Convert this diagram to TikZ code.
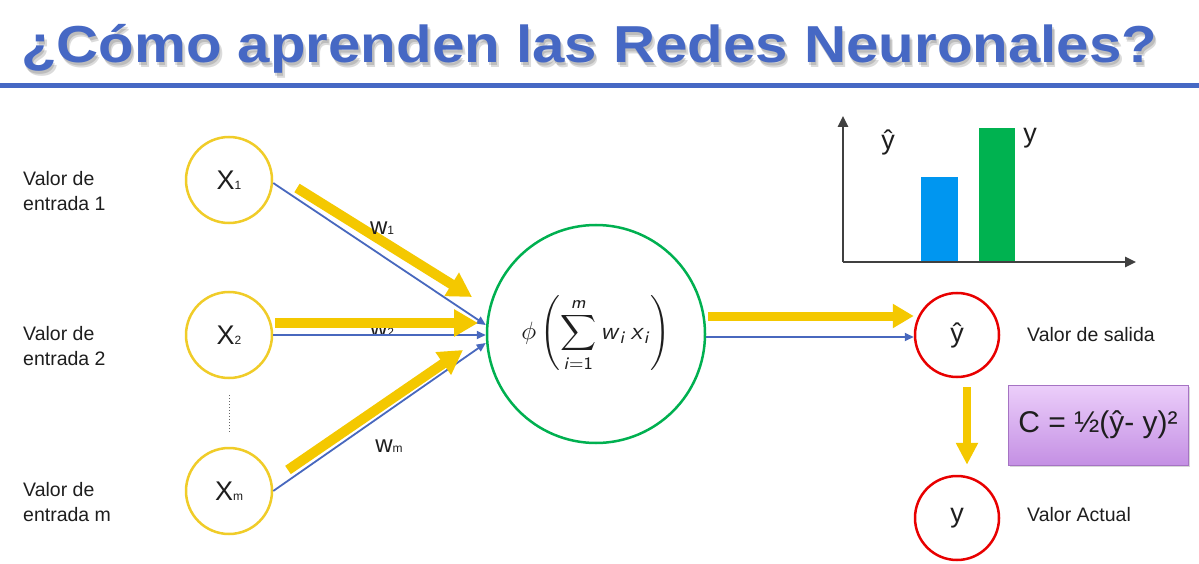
\documentclass[tikz,border=0pt]{standalone}
\usepackage{amsmath}
\usepackage{fontspec}
\setmainfont{Liberation Sans}
\usetikzlibrary{arrows.meta,calc,shadows}

\definecolor{titleblue}{RGB}{70,104,196}
\definecolor{linkblue}{RGB}{72,104,190}
\definecolor{gold}{RGB}{244,200,0}
\definecolor{ringgold}{RGB}{240,204,40}
\definecolor{ringgreen}{RGB}{0,176,80}
\definecolor{ringred}{RGB}{232,0,0}
\definecolor{axisgray}{RGB}{64,64,64}
\definecolor{barblue}{RGB}{0,150,240}
\definecolor{bargreen}{RGB}{0,178,80}
\definecolor{txt}{RGB}{30,30,30}
\definecolor{boxtop}{RGB}{236,206,250}
\definecolor{boxbottom}{RGB}{196,144,228}
\definecolor{boxedge}{RGB}{165,115,195}

% small index set on the baseline, as in X1, w1
\newcommand\lowidx[1]{{\fontsize{12}{12}\selectfont #1}}
% sans-serif italic letters inside the activation formula
\newcommand\sv[1]{\textsf{\textit{#1}}}

\tikzset{
  innode/.style={circle, draw=ringgold, line width=2.5pt, minimum size=86pt,
    inner sep=0pt, fill=white, text=txt, font=\fontsize{27}{27}\selectfont},
  outnode/.style={circle, draw=ringred, line width=2.5pt, minimum size=84pt,
    inner sep=0pt, fill=white, text=txt, font=\fontsize{27}{27}\selectfont},
  neuronnode/.style={circle, draw=ringgreen, line width=2.5pt, minimum size=218pt,
    inner sep=0pt, text=txt},
  link/.style={draw=linkblue, line width=1.8pt, -{Triangle[length=9pt,width=8pt]}},
  flow/.style={draw=gold, line width=10pt, -{Triangle[length=24pt,width=26pt]}},
  flowsmall/.style={draw=gold, line width=8pt, -{Triangle[length=22pt,width=21pt]}},
  caption/.style={font=\fontsize{19.5}{25}\selectfont, align=left, anchor=west,
    text=txt, inner sep=0pt},
  weight/.style={font=\fontsize{24}{24}\selectfont, anchor=base, text=txt, inner sep=0pt},
  axis/.style={draw=axisgray, line width=2.5pt, -{Triangle[length=11pt,width=10pt]}},
  heading/.style={anchor=base west, inner sep=0pt,
    font=\fontsize{52}{60}\selectfont\bfseries},
}

\begin{document}
\begin{tikzpicture}[x=1pt, y=-1pt]
\useasboundingbox (0,0) rectangle (1199,564);
\fill[white] (0,0) rectangle (1199,564);

% heading with a soft drop shadow and the rule beneath it
\node[heading, text=black, opacity=0.14] (shadeA) at (22.5,66)
  {\resizebox{1136pt}{\height}{¿Cómo aprenden las Redes Neuronales?}};
\node[heading, text=black, opacity=0.14] (shadeB) at (24,68)
  {\resizebox{1136pt}{\height}{¿Cómo aprenden las Redes Neuronales?}};
\node[heading, text=titleblue] (title) at (21,63)
  {\resizebox{1136pt}{\height}{¿Cómo aprenden las Redes Neuronales?}};
\draw[titleblue, line width=4.5pt] (0,85.5) -- (1199,85.5);

% input captions
\node[caption] (c1) at (23,191) {Valor de\\entrada 1};
\node[caption] (c2) at (23,346) {Valor de\\entrada 2};
\node[caption] (c3) at (23,502) {Valor de\\entrada m};

% input neurons
\node[innode] (x1) at (229,180) {X\lowidx{1}};
\node[innode] (x2) at (229,335) {X\lowidx{2}};
\node[innode] (xm) at (229,491) {X\lowidx{m}};
\draw[dotted, line width=1pt, black!60] ($(x2.south)+(0,16)$) -- ($(xm.north)+(0,-14)$);

% hidden neuron
\node[neuronnode] (neuron) at (596,334)
  {\scalebox{2.5}{$\displaystyle \phi\left(\sum_{\sv{i}\textsf{=1}}^{\sv{m}} \sv{w}_{\sv{i}}\,\sv{x}_{\sv{i}}\right)$}};

% weight partly hidden by the arrows
\node[weight] (w2) at (382,336) {w\lowidx{2}};

% weighted connections
\draw[link] ($(x1.east)+(0,3)$) -- ($(neuron.west)+(0,-9)$);
\draw[link] (x2.east) -- ($(neuron.west)+(0,1)$);
\draw[link] (xm.east) -- ($(neuron.west)+(0,9)$);

% forward signal
\coordinate (f1s) at ($(x1)+(68,8)$);
\coordinate (f1e) at ($(neuron)+(-124,-37)$);
\coordinate (f2s) at ($(x2)+(46,-12)$);
\coordinate (f2e) at ($(neuron)+(-118,-11)$);
\coordinate (f3s) at ($(xm)+(59,-21)$);
\coordinate (f3e) at ($(neuron)+(-133,16)$);
\draw[flow] (f1s) -- (f1e);
\draw[flow] (f2s) -- (f2e);
\draw[flow] (f3s) -- (f3e);

\node[weight] (w1) at (382,234) {w\lowidx{1}};
\node[weight] (wm) at (389,452) {w\lowidx{m}};

% output and actual value
\node[outnode] (yhat) at (957,335) {ŷ};
\node[outnode] (yact) at (957,518) {y};
\node[caption] (cs) at (1027,335) {Valor de salida};
\node[caption] (ca) at (1027,515) {Valor Actual};

\coordinate (os) at ($(neuron.east)+(2,-18)$);
\draw[flow, line width=9pt, -{Triangle[length=21pt,width=23pt]}] (os) -- ($(yhat.west)+(0,-19)$);
\draw[link] ($(neuron.east)+(0,3)$) -- ($(yhat.west)+(0,2)$);

\draw[flowsmall] ($(yhat.south)+(10,9)$) -- ($(yact.north)+(10,-10)$);

% cost function
\node[draw=boxedge, line width=1pt, top color=boxtop, bottom color=boxbottom,
  minimum width=180pt, minimum height=80pt, inner sep=0pt,
  drop shadow={opacity=0.3, shadow xshift=2pt, shadow yshift=-2pt},
  text=txt, font=\fontsize{30}{30}\selectfont] (cost) at (1098,425)
  {C = ½(ŷ- y)²};

% comparison chart
\coordinate (origin) at (843,262);
\draw[axis] (origin) -- (843,116);
\draw[axis] (origin) -- (1136,262);
\fill[barblue] (921,177) rectangle (958,261);
\fill[bargreen] (979,128) rectangle (1015,261);
\node[font=\fontsize{27}{27}\selectfont, text=txt] (lh) at (888,142) {ŷ};
\node[font=\fontsize{27}{27}\selectfont, text=txt] (ly) at (1030,138) {y};
\end{tikzpicture}
\end{document}
